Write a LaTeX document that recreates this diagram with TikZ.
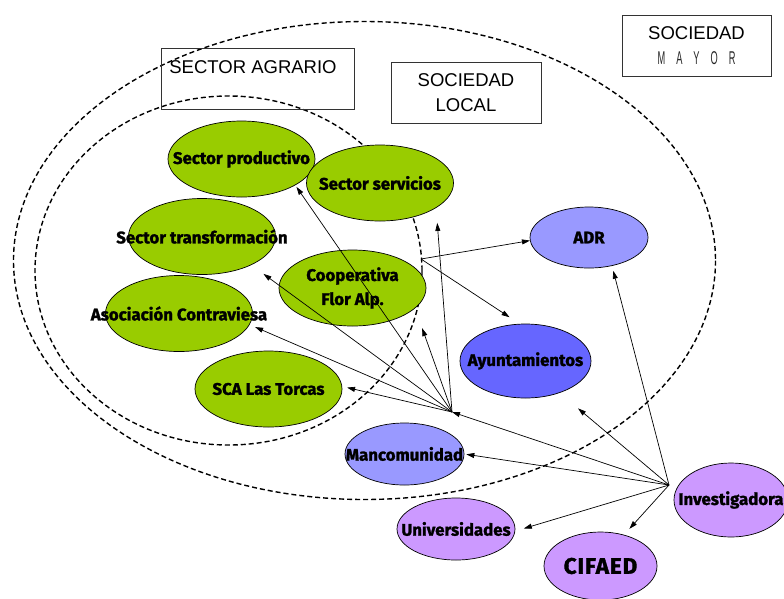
\documentclass[tikz,border=0pt]{standalone}
\usepackage{fontspec}
\usepackage{graphicx}
\setmainfont{Liberation Sans}
\newfontfamily\etiq{Fira Sans}[BoldFeatures={FakeBold=1.5}]
\usetikzlibrary{arrows.meta,positioning,shapes.geometric}
\definecolor{verde}{HTML}{99CC00}
\definecolor{azulclaro}{HTML}{9999FF}
\definecolor{azul}{HTML}{6666FF}
\definecolor{lila}{HTML}{CC99FF}
\newcommand{\rot}[1]{\makebox[0pt]{#1}}

\begin{document}
\begin{tikzpicture}[x=1pt,y=-1pt,>={Triangle[length=8pt,width=5pt]},
  caja/.style={draw=black!80,line width=.8pt,inner sep=0pt},
  agente/.style={ellipse,draw,line width=.7pt,inner sep=0pt,font=\etiq\bfseries\fontsize{16.8}{19}\selectfont},
  sector/.style={agente,fill=verde,minimum width=147,minimum height=76},
  limite/.style={dash pattern=on 5pt off 3pt,line width=1.4pt},
  flecha/.style={->,line width=.7pt}]
\useasboundingbox (0,0) rectangle (784,598);
\draw[limite] (364.5,260.5) ellipse[x radius=351,y radius=239];
\draw[limite] (228.5,270.5) ellipse[x radius=193.5,y radius=174.5];
\node[caja,minimum width=193,minimum height=61,anchor=north west] (agrario) at (161,48) {};
\node[font=\fontsize{18.5}{25}\selectfont] (agrariotxt) at (253,67) {SECTOR AGRARIO};
\node[caja,minimum width=150,minimum height=61,align=center,font=\fontsize{18.5}{25}\selectfont] (local) at (466,92.5) {SOCIEDAD\\LOCAL};
\node[caja,minimum width=149,minimum height=61,align=center,font=\fontsize{18.5}{25}\selectfont] (mayor) at (696.5,45.5) {SOCIEDAD\\\scalebox{0.5}[1]{\color{black!85}M\hspace{22pt}A\hspace{22pt}Y\hspace{22pt}O\hspace{22pt}R}};
\node[sector] (prod) at (241.5,159) {\rot{Sector productivo}};
\node[sector] (serv) at (380,183) {\rot{Sector servicios}};
\node[sector] (trans) at (202,236.5) {\rot{Sector transformación}};
\node[sector,align=center,font=\etiq\bfseries\fontsize{16.8}{24}\selectfont] (coop) at (352.5,288) {Cooperativa\\Flor Alp.};
\node[sector] (asoc) at (179,313.5) {\rot{Asociación Contraviesa}};
\node[sector] (torc) at (268.5,389) {\rot{SCA Las Torcas}};
\node[agente,fill=azulclaro,minimum width=118,minimum height=61] (adr) at (589,237.5) {\rot{ADR}};
\node[agente,fill=azul,minimum width=131,minimum height=74] (ayun) at (525.5,361) {\rot{Ayuntamientos}};
\node[agente,fill=azulclaro,minimum width=119,minimum height=62] (manc) at (404.5,454) {\rot{Mancomunidad}};
\node[agente,fill=lila,minimum width=118,minimum height=62] (univ) at (456,529) {\rot{Universidades}};
\node[agente,fill=lila,minimum width=113,minimum height=68,font=\etiq\bfseries\fontsize{22.5}{26}\selectfont\addfontfeature{LetterSpace=4}] (cif) at (600.5,566) {\rot{CIFAED}};
\node[agente,fill=lila,minimum width=114,minimum height=74] (inv) at (731,500) {\rot{Investigadora}};
\coordinate (nudo) at (452,412);
\coordinate (nudocoop) at (421,259);
\coordinate (nudoinv) at (669,485);
\draw[flecha,shorten >=2pt] (nudo) -- (prod.-26);
\draw[flecha,shorten >=15pt] (nudo) -- (serv.-24);
\draw[flecha,shorten >=15pt] (nudo) -- (trans.-30);
\draw[flecha,shorten >=21pt] (nudo) -- (coop.-18);
\draw[flecha,shorten >=6pt] (nudo) -- (asoc.-9);
\draw[flecha,shorten >=5pt] (nudo) -- (torc.2);
\draw[flecha] (nudocoop) -- (adr.183);
\draw[flecha,shorten >=12pt] (nudocoop) -- (ayun.99);
\draw[flecha,shorten >=5pt] (nudoinv) -- (adr.-51);
\draw[flecha,shorten >=24pt] (nudoinv) -- (ayun.-43);
\draw[flecha] (nudoinv) -- (nudo);
\draw[flecha,shorten >=2pt] (nudoinv) -- (manc.east);
\draw[flecha,shorten >=9pt] (nudoinv) -- (univ.-2);
\draw[flecha,shorten >=8pt] (nudoinv) -- (cif.53);
\end{tikzpicture}
\end{document}
